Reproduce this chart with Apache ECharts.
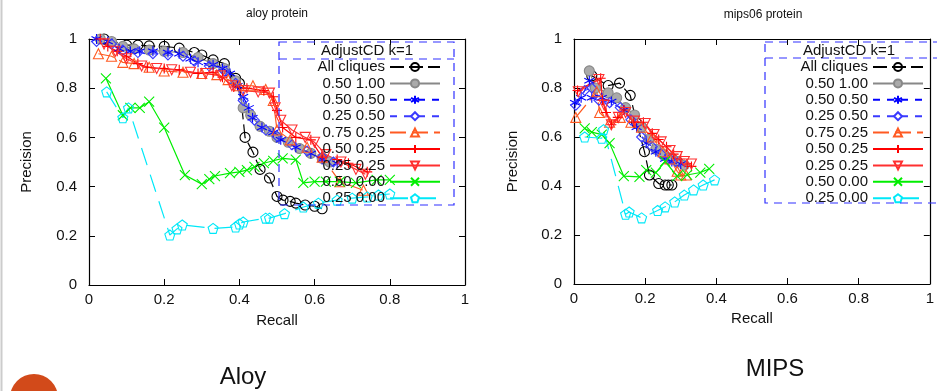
<!DOCTYPE html>
<html style="height: 100%">
<head>
<meta charset="utf-8">
</head>
<body style="height: 100%; margin: 0">
	<div id="container" style="width: 937px; height: 391px"></div>
	<script type="text/javascript" src="https://cdn.jsdelivr.net/npm/echarts@6/dist/echarts.min.js"></script>
	<script type="text/javascript">
		// series names (legend order)
		var names = ['All cliques', '0.50 1.00', '0.50 0.50', '0.25 0.50', '0.75 0.25', '0.50 0.25', '0.25 0.25', '0.50 0.00', '0.25 0.00'];
		var ticks = [0, 0.2, 0.4, 0.6, 0.8, 1];

		// aloy protein  [recall, precision]
		var aloyAll = [[0.04,1.0],[0.1,0.975],[0.13,0.975],[0.16,0.972],[0.2,0.97],[0.24,0.963],[0.28,0.945],[0.3,0.935],[0.33,0.915],[0.36,0.9],[0.39,0.84],[0.4,0.82],[0.415,0.6],[0.436,0.54],[0.455,0.47],[0.48,0.435],[0.5,0.36],[0.516,0.345],[0.535,0.34],[0.55,0.333],[0.575,0.325],[0.6,0.32],[0.62,0.31]];
		var aloy0510 = [[0.03,1.0],[0.06,0.99],[0.09,0.97],[0.12,0.96],[0.16,0.955],[0.2,0.95],[0.25,0.945],[0.29,0.925],[0.33,0.9],[0.36,0.88],[0.39,0.83],[0.41,0.72],[0.43,0.69],[0.455,0.645],[0.48,0.625],[0.5,0.6],[0.53,0.58],[0.56,0.555],[0.59,0.535],[0.62,0.515],[0.64,0.5]];
		var aloy0505 = [[0.02,1.0],[0.05,0.99],[0.08,0.96],[0.11,0.95],[0.135,0.95],[0.17,0.95],[0.21,0.945],[0.24,0.94],[0.27,0.92],[0.29,0.905],[0.33,0.895],[0.355,0.88],[0.375,0.86],[0.395,0.81],[0.41,0.765],[0.425,0.72],[0.435,0.68],[0.46,0.64],[0.49,0.62],[0.51,0.59],[0.55,0.56],[0.59,0.535],[0.62,0.51],[0.66,0.495]];
		var aloy0255 = [[0.02,0.99],[0.06,0.98],[0.09,0.955],[0.13,0.945],[0.17,0.94],[0.21,0.935],[0.25,0.93],[0.28,0.91],[0.32,0.89],[0.36,0.87],[0.39,0.82],[0.41,0.75],[0.44,0.67],[0.47,0.63],[0.5,0.605],[0.54,0.57],[0.58,0.545],[0.62,0.52],[0.65,0.5]];
		var aloy07525 = [[0.025,0.94],[0.06,0.93],[0.09,0.905],[0.12,0.9],[0.16,0.885],[0.2,0.87],[0.25,0.865],[0.3,0.86],[0.34,0.855],[0.37,0.835],[0.4,0.81],[0.436,0.81],[0.47,0.795],[0.49,0.75],[0.5,0.63],[0.535,0.59],[0.58,0.56],[0.62,0.52],[0.667,0.42],[0.73,0.385]];
		var aloy05025 = [[0.03,1.0],[0.05,0.97],[0.075,0.95],[0.1,0.93],[0.13,0.9],[0.155,0.885],[0.2,0.88],[0.24,0.875],[0.29,0.86],[0.33,0.865],[0.355,0.845],[0.385,0.805],[0.42,0.8],[0.465,0.79],[0.49,0.765],[0.5,0.71],[0.515,0.64],[0.55,0.6],[0.59,0.59],[0.62,0.52],[0.66,0.51],[0.69,0.495],[0.74,0.46]];
		var aloy02525 = [[0.04,0.98],[0.07,0.95],[0.1,0.92],[0.14,0.89],[0.18,0.88],[0.22,0.875],[0.27,0.865],[0.31,0.86],[0.35,0.85],[0.38,0.81],[0.41,0.79],[0.45,0.785],[0.48,0.78],[0.495,0.72],[0.51,0.67],[0.54,0.63],[0.575,0.6],[0.6,0.58],[0.63,0.53],[0.67,0.5],[0.71,0.47],[0.735,0.45]];
		var aloy05000 = [[0.045,0.84],[0.09,0.69],[0.11,0.72],[0.135,0.72],[0.16,0.745],[0.2,0.64],[0.255,0.447],[0.3,0.41],[0.32,0.43],[0.335,0.443],[0.375,0.455],[0.4,0.46],[0.42,0.467],[0.44,0.48],[0.465,0.495],[0.49,0.505],[0.515,0.515],[0.55,0.51],[0.57,0.415],[0.6,0.42],[0.63,0.42],[0.667,0.42],[0.71,0.415],[0.765,0.427],[0.8,0.427]];
		var aloy02500 = [[0.047,0.785],[0.09,0.68],[0.105,0.72],[0.215,0.203],[0.234,0.228],[0.248,0.244],[0.33,0.23],[0.39,0.236],[0.4,0.248],[0.41,0.256],[0.47,0.272],[0.48,0.272],[0.52,0.29],[0.57,0.317],[0.61,0.333],[0.66,0.345],[0.7,0.353],[0.74,0.358],[0.77,0.366],[0.8,0.37]];

		// mips06 protein
		var mipsAll = [[0.05,0.85],[0.096,0.81],[0.128,0.82],[0.158,0.77],[0.176,0.657],[0.198,0.54],[0.212,0.445],[0.238,0.41],[0.256,0.404],[0.265,0.404],[0.275,0.404]];
		var mips0510 = [[0.043,0.87],[0.06,0.8],[0.096,0.78],[0.12,0.76],[0.145,0.72],[0.17,0.69],[0.19,0.64],[0.21,0.59],[0.23,0.55],[0.25,0.53],[0.27,0.515],[0.29,0.5],[0.31,0.485]];
		var mips0505 = [[0.003,0.74],[0.02,0.76],[0.043,0.83],[0.05,0.76],[0.078,0.76],[0.105,0.745],[0.14,0.71],[0.176,0.64],[0.203,0.575],[0.23,0.54],[0.256,0.51],[0.275,0.5],[0.3,0.49]];
		var mips0255 = [[0.005,0.73],[0.03,0.79],[0.05,0.8],[0.07,0.75],[0.1,0.74],[0.13,0.72],[0.16,0.67],[0.19,0.6],[0.22,0.56],[0.245,0.53],[0.27,0.51],[0.29,0.495]];
		var mips07525 = [[0.005,0.68],[0.064,0.785],[0.072,0.7],[0.1,0.66],[0.13,0.68],[0.16,0.66],[0.19,0.64],[0.22,0.6],[0.25,0.54],[0.27,0.51],[0.29,0.46],[0.3,0.445],[0.315,0.445]];
		var mips05025 = [[0.01,0.79],[0.075,0.84],[0.08,0.75],[0.09,0.7],[0.105,0.65],[0.123,0.68],[0.14,0.71],[0.168,0.66],[0.195,0.66],[0.22,0.615],[0.238,0.59],[0.26,0.56],[0.28,0.53],[0.3,0.51],[0.318,0.49],[0.33,0.48]];
		var mips02525 = [[0.012,0.785],[0.07,0.835],[0.085,0.73],[0.105,0.65],[0.125,0.68],[0.145,0.7],[0.17,0.665],[0.2,0.655],[0.225,0.61],[0.245,0.58],[0.27,0.545],[0.29,0.52],[0.31,0.5],[0.33,0.49]];
		var mips05000 = [[0.03,0.635],[0.05,0.62],[0.078,0.61],[0.1,0.575],[0.14,0.44],[0.184,0.437],[0.203,0.465],[0.23,0.455],[0.256,0.5],[0.29,0.44],[0.318,0.445],[0.355,0.455],[0.38,0.47]];
		var mips02500 = [[0.03,0.6],[0.078,0.595],[0.083,0.63],[0.145,0.285],[0.155,0.294],[0.19,0.27],[0.235,0.3],[0.256,0.315],[0.283,0.335],[0.31,0.363],[0.336,0.384],[0.363,0.404],[0.395,0.425]];

		var aloyData = [aloyAll, aloy0510, aloy0505, aloy0255, aloy07525, aloy05025, aloy02525, aloy05000, aloy02500];
		var mipsData = [mipsAll, mips0510, mips0505, mips0255, mips07525, mips05025, mips02525, mips05000, mips02500];

		var FONT = 'Liberation Sans, Arial, sans-serif';
		var NONE = 'rgba(0,0,0,0)';
		var styles = [
			{ c: '#000000', sym: 'circle', dash: [14, 5] },
			{ c: '#888888', sym: 'circle', fill: '#aaaaaa' },
			{ c: '#0000ff', sym: 'path://M0,-5L0,5M-4.33,-2.5L4.33,2.5M-4.33,2.5L4.33,-2.5', dash: [7, 7] },
			{ c: '#3a3aff', sym: 'diamond', dash: [7, 7] },
			{ c: '#ff5a22', sym: 'triangle', dash: [16, 6] },
			{ c: '#ff0000', sym: 'path://M0,-5L0,5M-5,0L5,0' },
			{ c: '#ff3030', sym: 'triangle', rot: 180 },
			{ c: '#00ee00', sym: 'path://M-5,-5L5,5M-5,5L5,-5' },
			{ c: '#00e8f8', sym: 'path://M0,-5L4.76,-1.55L2.94,4.05L-2.94,4.05L-4.76,-1.55Z', dash: [18, 10] }
		];

		function mk(name, data, ai, st) {
			return {
				name: name, type: 'line', data: data,
				xAxisIndex: ai, yAxisIndex: ai,
				symbol: st.sym, symbolSize: 10, symbolRotate: st.rot || 0,
				showSymbol: true, animation: false,
				lineStyle: { color: st.c, width: 1.2, type: st.dash || 'solid' },
				itemStyle: { color: st.fill || NONE, borderColor: st.c, borderWidth: 1.1 },
				emphasis: { disabled: true }
			};
		}

		var series = [];
		for (var i = 0; i < names.length; i++) {
			series.push(mk(names[i], aloyData[i], 0, styles[i]));
			series.push(mk(names[i], mipsData[i], 2, styles[i]));
		}

		function xAx(gi, pos, labels, name, gap) {
			return {
				type: 'value', gridIndex: gi, position: pos, min: 0, max: 1, interval: 0.2,
				name: name, nameLocation: 'middle', nameGap: gap,
				nameTextStyle: { fontSize: 15, color: '#111', fontFamily: FONT },
				axisLine: { show: true, onZero: false, lineStyle: { color: '#000', width: 1.2 } },
				axisTick: { show: true, inside: true, length: 6, lineStyle: { color: '#000' } },
				axisLabel: { show: labels, fontSize: 15, color: '#111', fontFamily: FONT, margin: 7 },
				splitLine: { show: false }
			};
		}
		function yAx(gi, pos, labels, name, gap) {
			var a = xAx(gi, pos, labels, name, gap);
			a.axisLabel.margin = 12;
			return a;
		}

		var legendBase = {
			orient: 'vertical', align: 'right', top: 59, padding: 0,
			itemWidth: 50, itemHeight: 10, itemGap: 0.4, selectedMode: false,
			data: names,
			textStyle: { fontSize: 15, color: '#111', fontFamily: FONT, width: 96, align: 'right', lineHeight: 16 }
		};

		function txt(x, y, s, size) {
			return { type: 'text', x: x, y: y, z: 100,
				style: { text: s, fontSize: size, fill: '#111', fontFamily: FONT, align: 'center', verticalAlign: 'middle' } };
		}
		function dashRect(x, y, w, h) {
			return { type: 'rect', shape: { x: x, y: y, width: w, height: h }, z: 90,
				style: { fill: NONE, stroke: '#3030ff', lineWidth: 1.2, lineDash: [8, 6] } };
		}
		function dashLine(x1, y1, x2) {
			return { type: 'line', shape: { x1: x1, y1: y1, x2: x2, y2: y1 }, z: 90,
				style: { stroke: '#3030ff', lineWidth: 1.2, lineDash: [8, 6] } };
		}

		var dom = document.getElementById('container');
		var myChart = echarts.init(dom);
		var option = {
			animation: false,
			backgroundColor: '#fff',
			grid: [
				{ left: 89, top: 39, width: 376, height: 246 },
				{ left: 574, top: 39, width: 374, height: 245 }
			],
			xAxis: [
				xAx(0, 'bottom', true, 'Recall', 28),
				xAx(0, 'top', false),
				xAx(1, 'bottom', true, 'Recall', 27),
				xAx(1, 'top', false)
			],
			yAxis: [
				yAx(0, 'left', true, 'Precision', 55),
				yAx(0, 'right', false),
				yAx(1, 'left', true, 'Precision', 54),
				yAx(1, 'right', false)
			],
			legend: [
				Object.assign({}, legendBase, { left: 289 }),
				Object.assign({}, legendBase, { left: 772 })
			],
			graphic: [
				{ type: 'line', shape: { x1: 1.5, y1: 0, x2: 1.5, y2: 391 }, style: { stroke: '#cccccc', lineWidth: 2 } },
				{ type: 'circle', shape: { cx: 34, cy: 398, r: 24 }, style: { fill: '#d24a1a' } },
				txt(277, 14, 'aloy protein', 12),
				txt(763, 15, 'mips06 protein', 12),
				txt(243, 377, 'Aloy', 24),
				txt(775, 369, 'MIPS', 24),
				dashRect(279, 42, 175, 163),
				dashLine(279, 59, 454),
				txt(367, 51, 'AdjustCD k=1', 15),
				dashRect(765, 42, 180, 161),
				dashLine(765, 58, 945),
				txt(849, 51, 'AdjustCD k=1', 15)
			],
			series: series
		};
		myChart.setOption(option, true);
	</script>
</body>
</html>
